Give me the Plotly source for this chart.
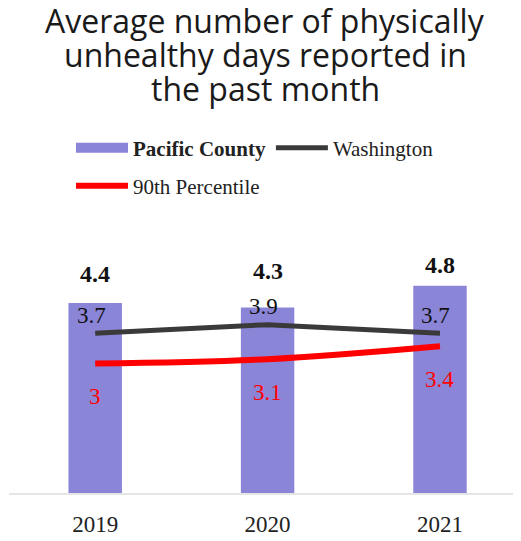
import plotly.graph_objects as go

# ---- data ----
years = ["2019", "2020", "2021"]
pacific = [4.4, 4.3, 4.8]
washington = [3.7, 3.9, 3.7]
pct90 = [3.0, 3.1, 3.4]
title_lines = ["Average number of physically", "unhealthy days reported in", "the past month"]

# ---- style ----
BAR = "#8B85D8"
GRAY = "#3A3A3A"
RED = "#FF0000"
SERIF = "Liberation Serif, serif"
SANS = "Open Sans, sans-serif"
# page body has an 8px margin, so the figure is sized to fill the rest of the window
W, H = 513, 533
MT, MB, ML, MR = 226, 48, 1, 0
PH = H - MT - MB
bar_label_shift = [29, 36, 21]


def ypaper(py):
    return (H - MB - py) / PH


fig = go.Figure()
fig.add_trace(go.Bar(x=years, y=pacific, width=0.31, marker=dict(color=BAR, line=dict(width=0)),
                     showlegend=False, hoverinfo="skip"))
fig.add_trace(go.Scatter(x=[years[0]], y=[None], mode="lines", line=dict(color=BAR, width=11),
                         name="<b>Pacific County</b>", legend="legend"))
fig.add_trace(go.Scatter(x=years, y=washington, mode="lines", line=dict(color=GRAY, width=5),
                         name="Washington", legend="legend"))
fig.add_trace(go.Scatter(x=years, y=pct90, mode="lines",
                         line=dict(color=RED, width=6, shape="spline", smoothing=1),
                         name="90th Percentile", legend="legend2"))

ann = []
for i, yr in enumerate(years):
    ann.append(dict(x=i, y=pacific[i], xref="x", yref="y", text=f"<b>{pacific[i]:g}</b>",
                    showarrow=False, yshift=bar_label_shift[i], font=dict(family=SERIF, size=24, color="#111")))
    ann.append(dict(x=i, y=washington[i], xref="x", yref="y", text=f"{washington[i]:g}",
                    showarrow=False, yshift=18, xshift=-4, font=dict(family=SERIF, size=23, color="#111")))
    ann.append(dict(x=i, y=pct90[i], xref="x", yref="y", text=f"{pct90[i]:g}",
                    showarrow=False, yshift=-33, font=dict(family=SERIF, size=23, color=RED)))

for j, (line, py) in enumerate(zip(title_lines, [12, 46, 80])):
    ann.append(dict(x=0.5, y=ypaper(py), xref="paper", yref="paper", text=line, showarrow=False,
                    xanchor="center", yanchor="middle", font=dict(family=SANS, size=32, color="#1A1A1A")))

leg_common = dict(orientation="h", xref="container", yref="container", xanchor="left",
                  yanchor="middle", itemwidth=52, bgcolor="rgba(0,0,0,0)",
                  font=dict(family=SERIF, size=21, color="#222"), traceorder="normal")

fig.update_layout(
    width=W, height=H,
    margin=dict(l=ML, r=MR, t=MT, b=MB, pad=0, autoexpand=False),
    paper_bgcolor="white", plot_bgcolor="white",
    bargap=0.2,
    xaxis=dict(type="category", range=[-0.5, 2.47], showgrid=False, zeroline=False,
               showline=True, linecolor="#E5E5E5", linewidth=2, automargin=False,
               tickfont=dict(family=SERIF, size=23, color="#222"), ticks="", ticklabelstandoff=9),
    yaxis=dict(range=[0, 6], visible=False, showgrid=False, zeroline=False, automargin=False),
    legend=dict(x=63 / W, y=1 - 140 / H, **leg_common),
    legend2=dict(x=63 / W, y=1 - 178 / H, **leg_common),
    annotations=ann,
    showlegend=True,
)

fig.write_html("out.html")
